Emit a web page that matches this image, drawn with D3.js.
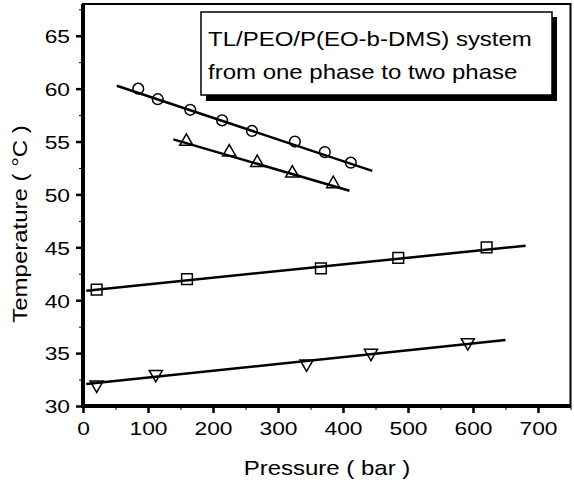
<!DOCTYPE html>
<html lang="en">
    <head>
        <meta charset="utf-8">
        <title>Cloud point temperature vs pressure</title>
        <script type="text/javascript" src="https://cdn.jsdelivr.net/npm/d3@7/dist/d3.min.js"></script>
        <style type="text/css">
            body { margin: 0; background: #fff; }
            text { font-family: "Liberation Sans", Arial, sans-serif; fill: #000; }
        </style>
    </head>

    <body>
        <script type="text/javascript">
            // data
            var circleP = [85, 115, 165, 214, 260, 326, 372, 412];
            var circleT = [60, 59, 58, 57, 56, 55, 54, 53];
            var triUpP = [159, 225, 268, 322, 385];
            var triUpT = [55, 54, 53, 52, 51];
            var squareP = [21, 160, 366, 485, 621];
            var squareT = [41, 42, 43, 44, 45];
            var triDownP = [21, 112, 344, 443, 592];
            var triDownT = [32, 33, 34, 35, 36];

            // fitted straight lines (end points)
            var circleFitP = [52, 445];
            var circleFitT = [60.27, 52.23];
            var triUpFitP = [139, 410];
            var triUpFitT = [55.2, 50.35];
            var squareFitP = [5, 681];
            var squareFitT = [40.9, 45.15];
            var triDownFitP = [5, 650];
            var triDownFitT = [32.08, 36.24];

            var xTicks = [0, 100, 200, 300, 400, 500, 600, 700];
            var yTicks = [30, 35, 40, 45, 50, 55, 60, 65];
            var legendLines = ["TL/PEO/P(EO-b-DMS) system", "from one phase to two phase"];

            var w = 574;
            var h = 485;
            var sx = 1.2;   // the original font is wide

            var svg = d3.select("body")
                    .append("svg")
                    .attr("width", w)
                    .attr("height", h);

            var xScale = d3.scaleLinear()
                            .domain([0, 750])
                            .range([83, 570.5]);
            var yScale = d3.scaleLinear()
                            .domain([30, 68])
                            .range([406, 4]);

            // frame
            svg.append("rect")
                .attr("x", xScale(0))
                .attr("y", yScale(68))
                .attr("width", xScale(750) - xScale(0))
                .attr("height", yScale(30) - yScale(68))
                .attr("fill", "none")
                .attr("stroke", "#000")
                .attr("stroke-width", 2);

            // x axis
            var xAxis = svg.append("g")
                .attr("transform", "translate(0," + yScale(30) + ")")
                .call(d3.axisBottom(xScale).tickValues(xTicks).tickSize(7).tickFormat(d3.format("d")));
            svg.append("g")
                .attr("transform", "translate(0," + yScale(30) + ")")
                .call(d3.axisBottom(xScale).tickValues(d3.range(50, 751, 100)).tickSize(4).tickFormat(""))
                .select(".domain").remove();
            xAxis.select(".domain").remove();
            xAxis.selectAll("line").attr("stroke-width", 2.5);
            xAxis.selectAll("text")
                .attr("y", 29)
                .attr("dy", 0)
                .attr("transform", "scale(" + sx + ",1)")
                .style("font-size", "19px")
                .style("font-family", "'Liberation Sans', Arial, sans-serif");

            // y axis
            var yAxis = svg.append("g")
                .attr("transform", "translate(" + xScale(0) + ",0)")
                .call(d3.axisLeft(yScale).tickValues(yTicks).tickSize(7).tickFormat(d3.format("d")));
            svg.append("g")
                .attr("transform", "translate(" + xScale(0) + ",0)")
                .call(d3.axisLeft(yScale).tickValues(d3.range(32.5, 68, 5)).tickSize(4).tickFormat(""))
                .select(".domain").remove();
            yAxis.select(".domain").remove();
            yAxis.selectAll("line").attr("stroke-width", 2.5);
            yAxis.selectAll("text")
                .attr("x", -13 / sx)
                .attr("dy", "0.36em")
                .attr("transform", "scale(" + sx + ",1)")
                .style("font-size", "19px")
                .style("font-family", "'Liberation Sans', Arial, sans-serif");

            svg.selectAll(".tick line").attr("stroke", "#000");

            // thick left and bottom axis lines
            svg.append("line")
                .attr("x1", xScale(0)).attr("x2", xScale(0))
                .attr("y1", yScale(68)).attr("y2", yScale(30) + 2)
                .attr("stroke", "#000").attr("stroke-width", 4);
            svg.append("line")
                .attr("x1", xScale(0) - 2).attr("x2", xScale(750))
                .attr("y1", yScale(30)).attr("y2", yScale(30))
                .attr("stroke", "#000").attr("stroke-width", 4);

            // fitted lines
            var line = d3.line()
                .x(function(d) { return xScale(d[0]); })
                .y(function(d) { return yScale(d[1]); });
            var fits = [
                [circleFitP, circleFitT],
                [triUpFitP, triUpFitT],
                [squareFitP, squareFitT],
                [triDownFitP, triDownFitT]
            ];
            svg.selectAll("path.fit")
                .data(fits)
                .enter()
                .append("path")
                .attr("class", "fit")
                .attr("d", function(d) { return line(d3.zip(d[0], d[1])); })
                .attr("fill", "none")
                .attr("stroke", "#000")
                .attr("stroke-width", 2.5);

            // markers
            function drawMarkers(ps, ts, type, size, rot) {
                svg.append("g")
                    .selectAll("path")
                    .data(d3.zip(ps, ts))
                    .enter()
                    .append("path")
                    .attr("d", d3.symbol().type(type).size(size))
                    .attr("transform", function(d) {
                        return "translate(" + xScale(d[0]) + "," + yScale(d[1]) + ") rotate(" + rot + ")";
                    })
                    .attr("fill", "none")
                    .attr("stroke", "#000")
                    .attr("stroke-width", 1.5);
            }
            drawMarkers(circleP, circleT, d3.symbolCircle, 90, 0);
            drawMarkers(triUpP, triUpT, d3.symbolTriangle, 75, 0);
            drawMarkers(squareP, squareT, d3.symbolSquare, 115, 0);
            drawMarkers(triDownP, triDownT, d3.symbolTriangle, 75, 180);

            // legend box with drop shadow
            svg.append("rect")
                .attr("x", 206).attr("y", 17)
                .attr("width", 351).attr("height", 84)
                .attr("fill", "#000");
            svg.append("rect")
                .attr("x", 201).attr("y", 12)
                .attr("width", 351).attr("height", 83)
                .attr("fill", "#fff")
                .attr("stroke", "#000")
                .attr("stroke-width", 1.5);
            svg.selectAll("text.legend")
                .data(legendLines)
                .enter()
                .append("text")
                .attr("class", "legend")
                .attr("transform", function(d, i) {
                    return "translate(208," + (46 + i * 33) + ") scale(" + sx + ",1)";
                })
                .style("font-size", "20px")
                .text(function(d) { return d; });

            // axis titles
            svg.append("text")
                .attr("transform", "translate(327,475) scale(" + sx + ",1)")
                .attr("text-anchor", "middle")
                .style("font-size", "20px")
                .text("Pressure ( bar )");
            svg.append("text")
                .attr("transform", "translate(27,224) rotate(-90) scale(" + sx + ",1)")
                .attr("text-anchor", "middle")
                .style("font-size", "20px")
                .text("Temperature ( \u00B0C )");
        </script>
    </body>
</html>
